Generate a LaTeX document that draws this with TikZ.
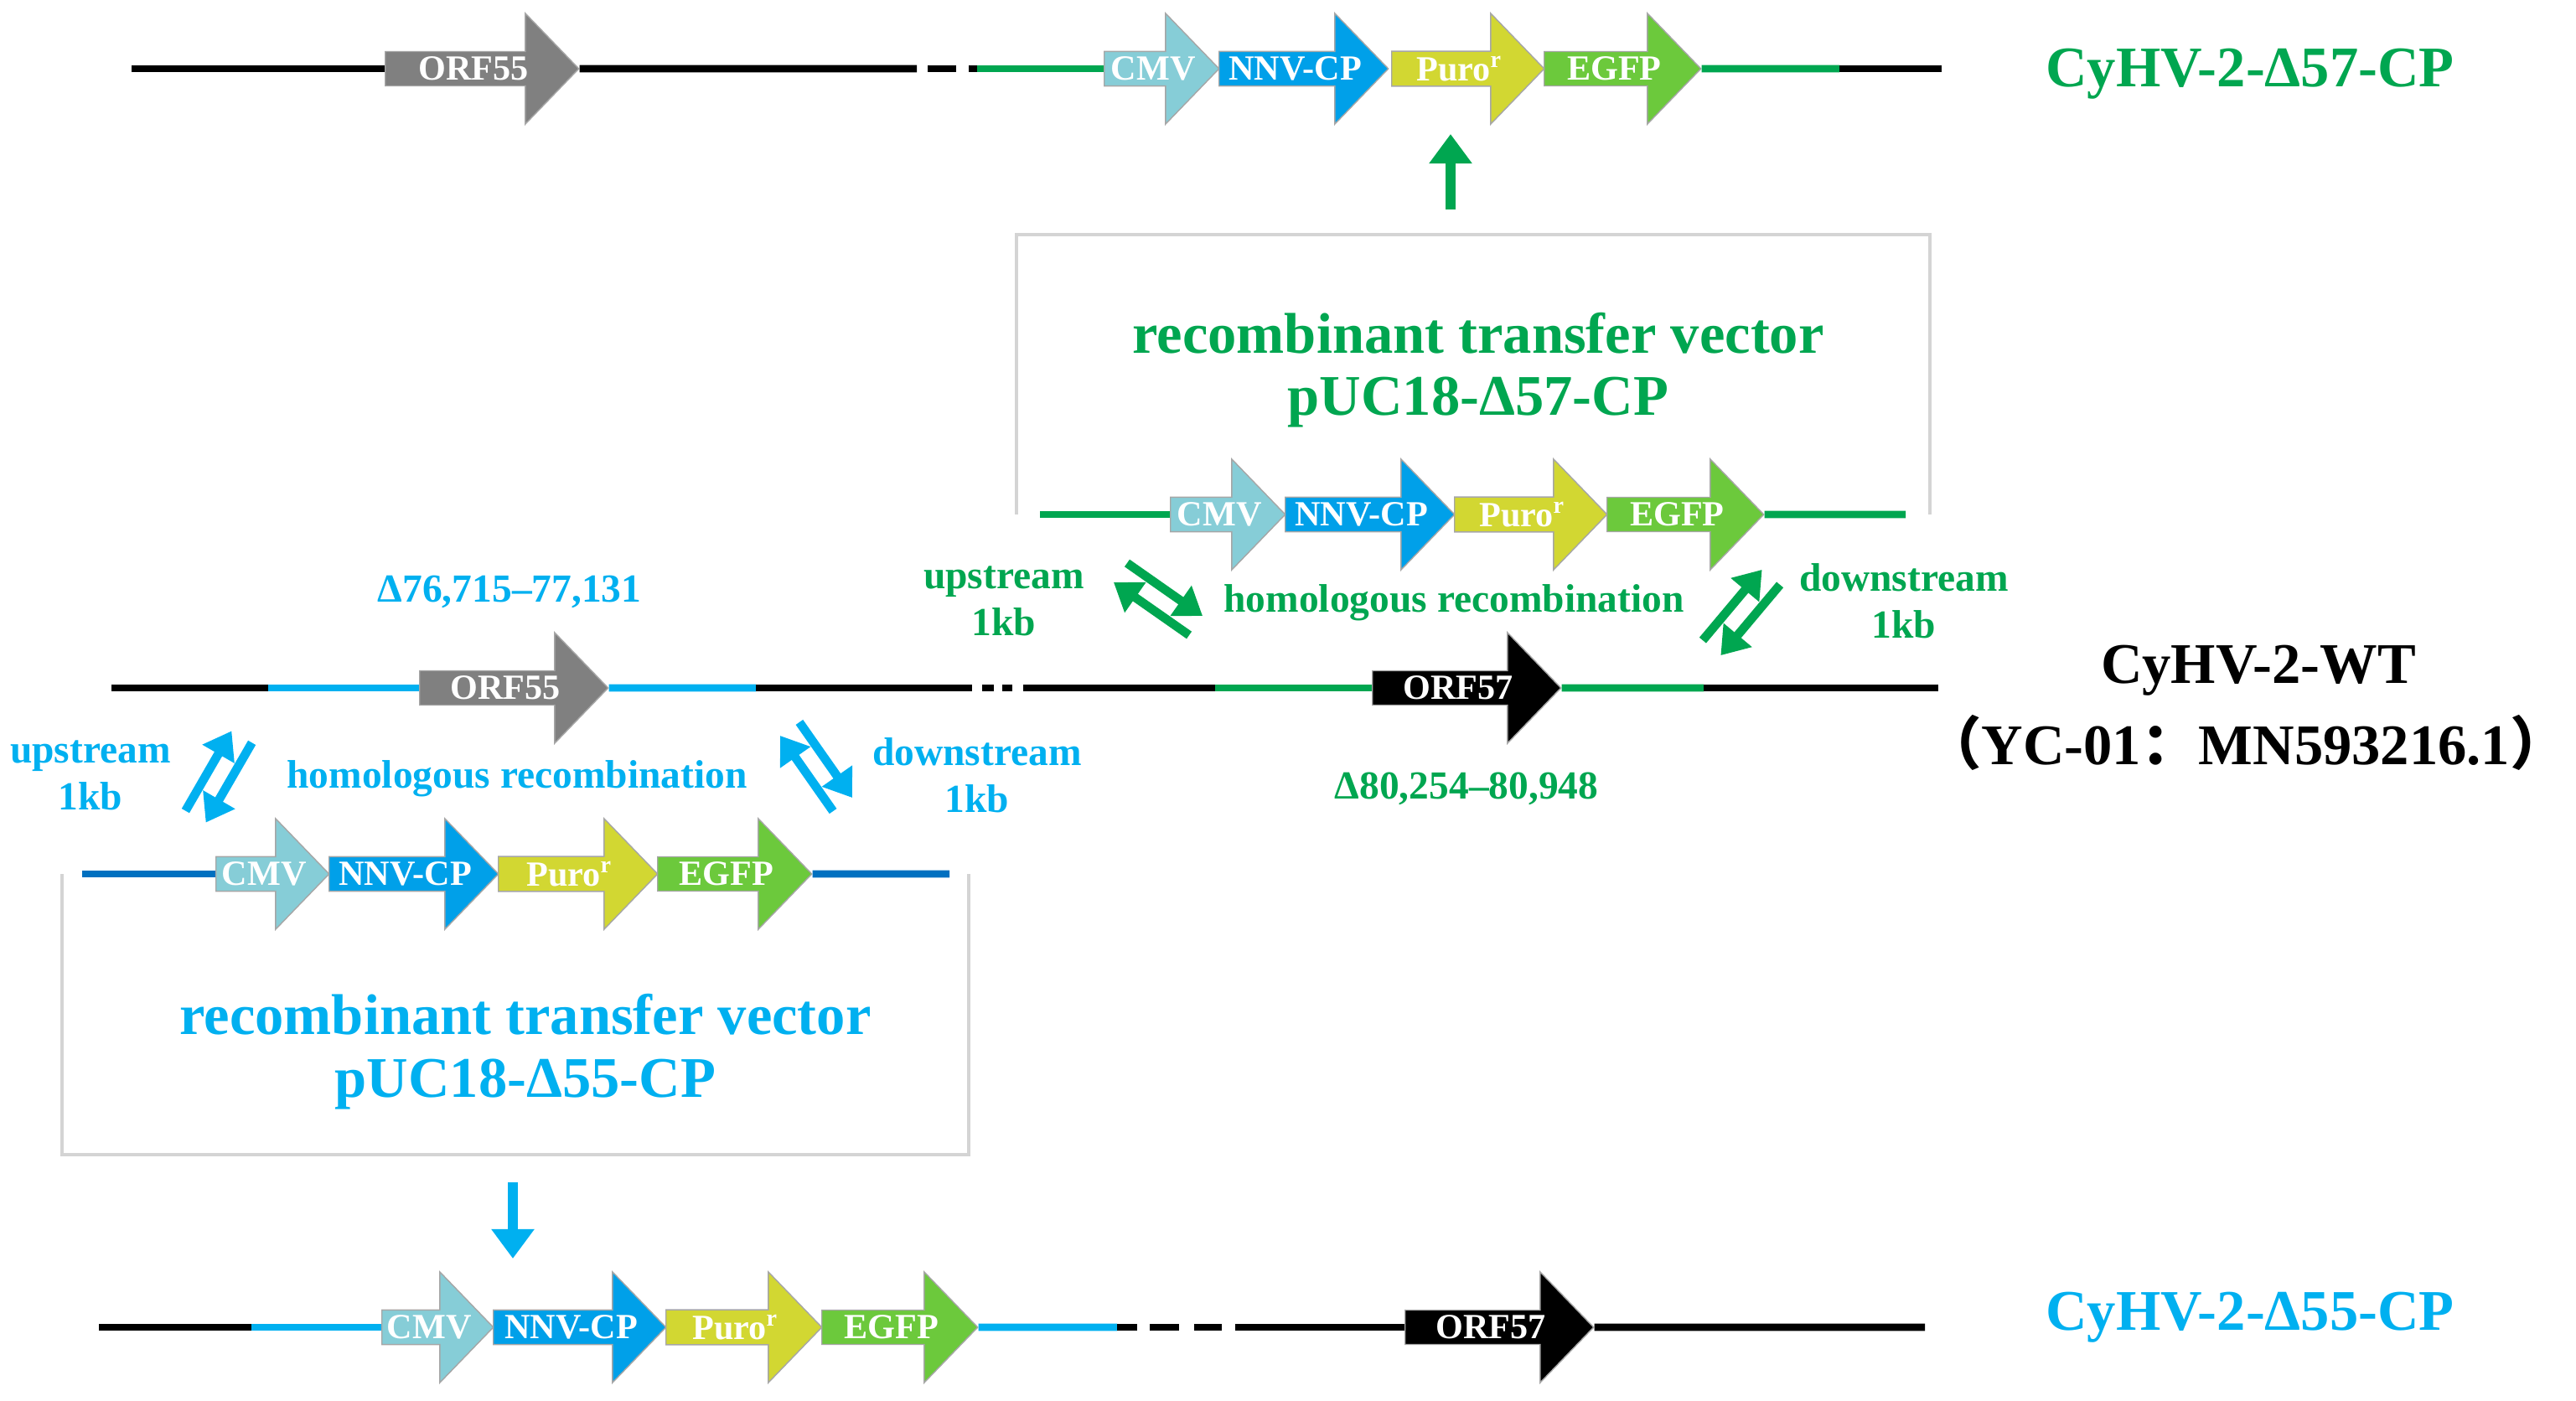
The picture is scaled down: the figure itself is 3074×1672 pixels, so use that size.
\documentclass[tikz,border=0pt]{standalone}
\usepackage{fontspec}
\setmainfont{Liberation Serif}
\newfontfamily\cjk{Noto Sans CJK SC}
\usetikzlibrary{shapes.arrows,arrows.meta}
\definecolor{cmv}{HTML}{86CDD7}
\definecolor{nnv}{HTML}{00A0E9}
\definecolor{puro}{HTML}{D2D732}
\definecolor{egfp}{HTML}{6CC93C}
\definecolor{orfg}{HTML}{808080}
\definecolor{grn}{HTML}{00A650}
\definecolor{blu}{HTML}{00B0F0}
\definecolor{dblu}{HTML}{0070C0}
\definecolor{boxg}{HTML}{D4D4D4}
\tikzset{
 gene/.style={single arrow, draw=gray!70, line width=0.4pt, minimum width=1.32cm,
   single arrow head extend=0.33cm, single arrow tip angle=92, inner sep=0pt,
   anchor=west, text=white, font=\bfseries\fontsize{12}{14}\selectfont},
 dna/.style={line width=2.5pt},
 sw/.style={line width=3pt,-{Triangle[length=9pt,width=12pt]}},
 big/.style={font=\bfseries\fontsize{19.5}{22}\selectfont},
 mid/.style={font=\bfseries\fontsize{13.5}{16}\selectfont, align=center},
 vbox/.style={draw=boxg, line width=1.3pt},
}
\newcommand\gene[6]{\node[gene,fill=#5,minimum height=#4*0.01cm] (#1) at (#2,#3) {#6};}
\newcommand\swp[4]{\begin{scope}[shift={(#1,#2)},rotate=#3]
 \draw[sw,#4] (-55,-14)--(55,-14); \draw[sw,#4] (55,14)--(-55,14);\end{scope}}
\begin{document}
\begin{tikzpicture}[x=0.01cm,y=-0.01cm]
\useasboundingbox (0,0) rectangle (3074,1672);
% boxes
\draw[vbox] (1213,614) -- (1213,280) -- (2303,280) -- (2303,614);
\draw[vbox] (74,1043) -- (74,1378) -- (1156,1378) -- (1156,1043);
% ---- top row
\gene{tORF}{459}{82}{231}{orfg}{ORF55}
\gene{tCMV}{1317}{82}{137}{cmv}{CMV}
\gene{tNNV}{1454}{82}{202}{nnv}{NNV-CP}
\gene{tPuro}{1660}{82}{182}{puro}{Puro\textsuperscript{r}}
\gene{tEGFP}{1842}{82}{187}{egfp}{EGFP}
\coordinate (t0) at (157,82); \coordinate (t1) at (1094,82);
\coordinate (t2) at (2195,82); \coordinate (t3) at (2317,82);
\draw[dna] (t0) -- (tORF.west); \draw[dna] (tORF.east) -- (t1);
\draw[dna] (1107,82) -- (1141,82); \draw[dna] (1156,82) -- (1166,82);
\draw[dna,grn] (1166,82) -- (tCMV.west); \draw[dna,grn] (tEGFP.east) -- (t2);
\draw[dna] (t2) -- (t3);
\node[big,text=grn] (l57) at (2685,88) {CyHV-2-Δ57-CP};
\coordinate (ua0) at (1731,250); \coordinate (ua1) at (1731,160);
\draw[grn,line width=3.6pt,-{Triangle[length=10pt,width=14pt]}] (ua0) -- (ua1);
% top vector
\node[big,text=grn] (v1a) at (1764,398) {recombinant transfer vector};
\node[big,text=grn] (v1b) at (1764,480) {pUC18-Δ57-CP};
\gene{vCMV}{1396}{614}{137}{cmv}{CMV}
\gene{vNNV}{1533}{614}{202}{nnv}{NNV-CP}
\gene{vPuro}{1735}{614}{182}{puro}{Puro\textsuperscript{r}}
\gene{vEGFP}{1917}{614}{187}{egfp}{EGFP}
\draw[dna,grn] (1241,614) -- (vCMV.west); \draw[dna,grn] (vEGFP.east) -- (2274,614);
% ---- middle WT row
\gene{mORF55}{500}{821}{225}{orfg}{ORF55}
\gene{mORF57}{1637}{821}{225}{black}{ORF57}
\draw[dna] (133,821) -- (320,821);
\draw[dna,blu] (320,821) -- (mORF55.west); \draw[dna,blu] (mORF55.east) -- (902,821);
\draw[dna] (902,821) -- (1160,821);
\draw[dna] (1172,821) -- (1186,821); \draw[dna] (1196,821) -- (1208,821);
\draw[dna] (1221,821) -- (1450,821);
\draw[dna,grn] (1450,821) -- (mORF57.west); \draw[dna,grn] (mORF57.east) -- (2033,821);
\draw[dna] (2033,821) -- (2313,821);
\node[mid,text=blu] (d55) at (608,706) {Δ76,715–77,131};
\node[mid,text=grn] (d57) at (1750,941) {Δ80,254–80,948};
\node[big] (wt) at (2695,800) {CyHV-2-WT};
\node[big] (yc) at (2680,886) {{\cjk （}YC-01{\cjk ：}MN593216.1{\cjk ）}};
% green recombination labels
\node[mid,text=grn] (gu) at (1198,717) {upstream\\1kb};
\node[mid,text=grn] (gh) at (1735,719) {homologous recombination};
\node[mid,text=grn] (gd) at (2272,717) {downstream\\1kb};
\swp{1382}{715}{-35}{grn}
\swp{2078}{731}{50}{grn}
% blue recombination labels
\node[mid,text=blu] (bu) at (108,925) {upstream\\1kb};
\node[mid,text=blu] (bh) at (617,929) {homologous recombination};
\node[mid,text=blu] (bd) at (1166,925) {downstream\\1kb};
\swp{261}{927}{60}{blu}
\swp{974}{915}{-55}{blu}
% bottom vector
\gene{wCMV}{257}{1043}{135}{cmv}{CMV}
\gene{wNNV}{392}{1043}{202}{nnv}{NNV-CP}
\gene{wPuro}{594}{1043}{190}{puro}{Puro\textsuperscript{r}}
\gene{wEGFP}{784}{1043}{184}{egfp}{EGFP}
\draw[dna,dblu] (98,1043) -- (wCMV.west); \draw[dna,dblu] (wEGFP.east) -- (1133,1043);
\node[big,text=blu] (v2a) at (627,1211) {recombinant transfer vector};
\node[big,text=blu] (v2b) at (627,1294) {pUC18-Δ55-CP};
\coordinate (da0) at (612,1411); \coordinate (da1) at (612,1502);
\draw[blu,line width=3.6pt,-{Triangle[length=10pt,width=14pt]}] (da0) -- (da1);
% ---- bottom row
\gene{bCMV}{455}{1584}{133}{cmv}{CMV}
\gene{bNNV}{588}{1584}{206}{nnv}{NNV-CP}
\gene{bPuro}{794}{1584}{186}{puro}{Puro\textsuperscript{r}}
\gene{bEGFP}{980}{1584}{186}{egfp}{EGFP}
\gene{bORF57}{1676}{1584}{225}{black}{ORF57}
\draw[dna] (118,1584) -- (300,1584);
\draw[dna,blu] (300,1584) -- (bCMV.west); \draw[dna,blu] (bEGFP.east) -- (1333,1584);
\draw[dna] (1333,1584) -- (1357,1584);
\draw[dna] (1372,1584) -- (1407,1584); \draw[dna] (1425,1584) -- (1458,1584);
\draw[dna] (1474,1584) -- (bORF57.west); \draw[dna] (bORF57.east) -- (2297,1584);
\node[big,text=blu] (l55) at (2685,1572) {CyHV-2-Δ55-CP};
\end{tikzpicture}
\end{document}
